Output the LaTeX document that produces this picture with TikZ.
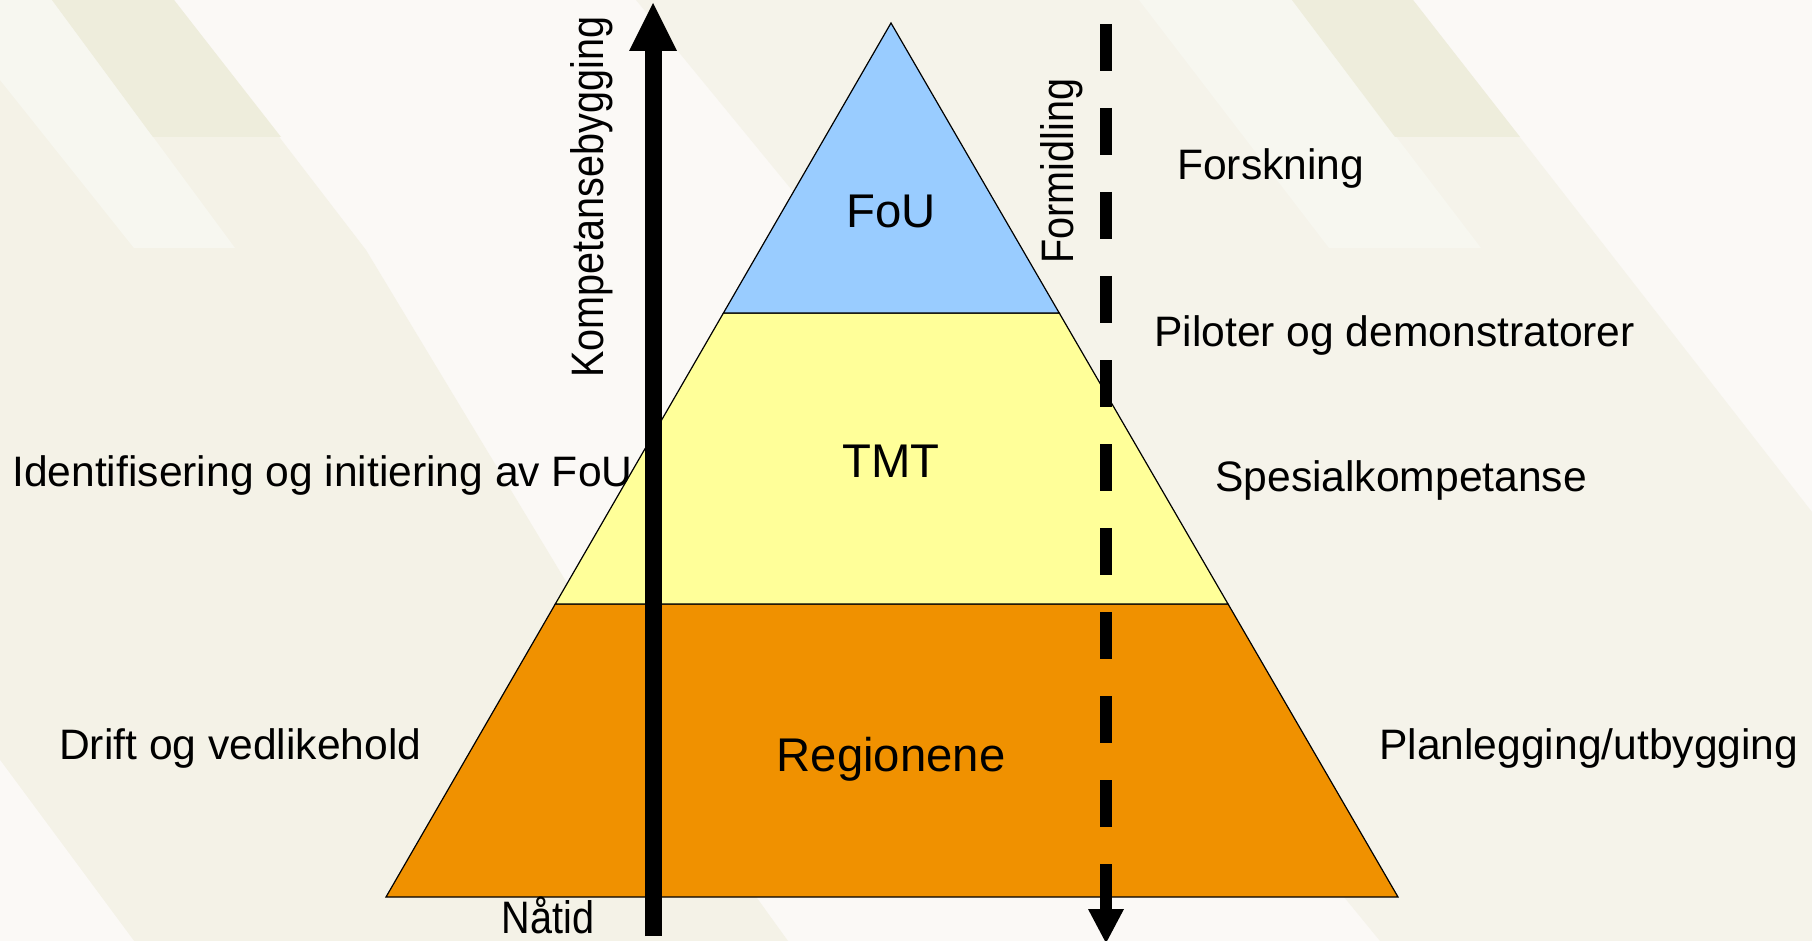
\documentclass[tikz,border=0pt]{standalone}
\usepackage{fontspec}
\setmainfont{Liberation Sans}
\newfontfamily\narrowfont{Liberation Sans}[FakeStretch=0.87]
\usetikzlibrary{arrows.meta,calc}
\definecolor{bgwhite}{HTML}{FBF9F6}
\definecolor{bgbeige}{HTML}{F4F2E7}
\definecolor{bgbeigeb}{HTML}{F5F3EA}
\definecolor{bgpale}{HTML}{F7F7F0}
\definecolor{bgdark}{HTML}{EEEDDC}
\definecolor{foublue}{HTML}{99CCFF}
\definecolor{tmtyellow}{HTML}{FFFF99}
\definecolor{regorange}{HTML}{F09100}
\begin{document}
\begin{tikzpicture}[x=1pt,y=-1pt,
  layer/.style={draw=black,line width=1.2pt,line join=miter},
  sidelabel/.style={anchor=base west,inner sep=0pt,font=\fontsize{42.6}{50}\selectfont},
  pyrlabel/.style={anchor=base,inner sep=0pt,font=\fontsize{47.3}{56}\selectfont},
  narrowlabel/.style={anchor=base,inner sep=0pt,font=\narrowfont\fontsize{45.5}{54}\selectfont},
  growarrow/.style={line width=17pt,-{Triangle[width=48pt,length=48pt,line width=0pt]}},
  spreadarrow/.style={line width=12pt,dash pattern=on 47pt off 37pt,-{Triangle[width=36pt,length=34pt,line width=0pt]}}
]
\useasboundingbox (0,0) rectangle (1812,941);
% background
\fill[bgwhite] (0,0) rectangle (1812,941);
\fill[bgbeige] (0,0) -- (174,0) -- (366,250) -- (757,898) -- (788,941) -- (0,941) -- cycle;
\fill[bgpale] (0,0) -- (52,0) -- (235,248) -- (134,248) -- (0,80) -- cycle;
\fill[bgdark] (52,0) -- (174,0) -- (281,137) -- (153,137) -- cycle;
\fill[bgwhite] (0,760) -- (134,941) -- (0,941) -- cycle;
\fill[bgbeigeb] (636,0) -- (1413,0) -- (1812,512) -- (1812,941) -- (1380,941) -- (1150,660) -- (800,200) -- cycle;
\fill[bgpale] (1139,0) -- (1292,0) -- (1481,248) -- (1329,248) -- cycle;
\fill[bgdark] (1292,0) -- (1413,0) -- (1520,137) -- (1395,137) -- cycle;
% pyramid
\coordinate (apex) at (891,23);
\coordinate (bl) at (386,897);
\coordinate (br) at (1398,897);
\coordinate (l1) at ($(apex)!0.3318!(bl)$);
\coordinate (r1) at ($(apex)!0.3318!(br)$);
\coordinate (l2) at ($(apex)!0.6648!(bl)$);
\coordinate (r2) at ($(apex)!0.6648!(br)$);
\filldraw[layer,fill=regorange] (l2) -- (r2) -- (br) -- (bl) -- cycle;
\filldraw[layer,fill=tmtyellow] (l1) -- (r1) -- (r2) -- (l2) -- cycle;
\filldraw[layer,fill=foublue] (apex) -- (r1) -- (l1) -- cycle;
\node[pyrlabel] (fou) at (891,228) {FoU};
\node[pyrlabel] (tmt) at (891,477) {TMT};
\node[pyrlabel] (reg) at (891,771) {Regionene};
% side labels
\node[sidelabel] (ident) at (12,486) {Identifisering og initiering av FoU};
\node[sidelabel] (drift) at (59,759) {Drift og vedlikehold};
\node[sidelabel] (forsk) at (1177,180) {Forskning};
\node[sidelabel] (pilot) at (1154,346) {Piloter og demonstratorer};
\node[sidelabel] (spes) at (1215,491) {Spesialkompetanse};
\node[sidelabel] (plan) at (1379,759) {Planlegging/utbygging};
\node[narrowlabel,rotate=90] (komp) at (603,197) {Kompetansebygging};
\node[narrowlabel,rotate=90] (form) at (1073,171) {Formidling};
\node[narrowlabel] (natid) at (548,933) {Nåtid};
% arrows
\coordinate (kbot) at (653,936);
\coordinate (ktop) at (653,3);
\draw[growarrow] (kbot) -- (ktop);
\coordinate (ftop) at (1106,24);
\coordinate (fbot) at (1106,943);
\draw[spreadarrow] (ftop) -- (fbot);
\end{tikzpicture}
\end{document}
